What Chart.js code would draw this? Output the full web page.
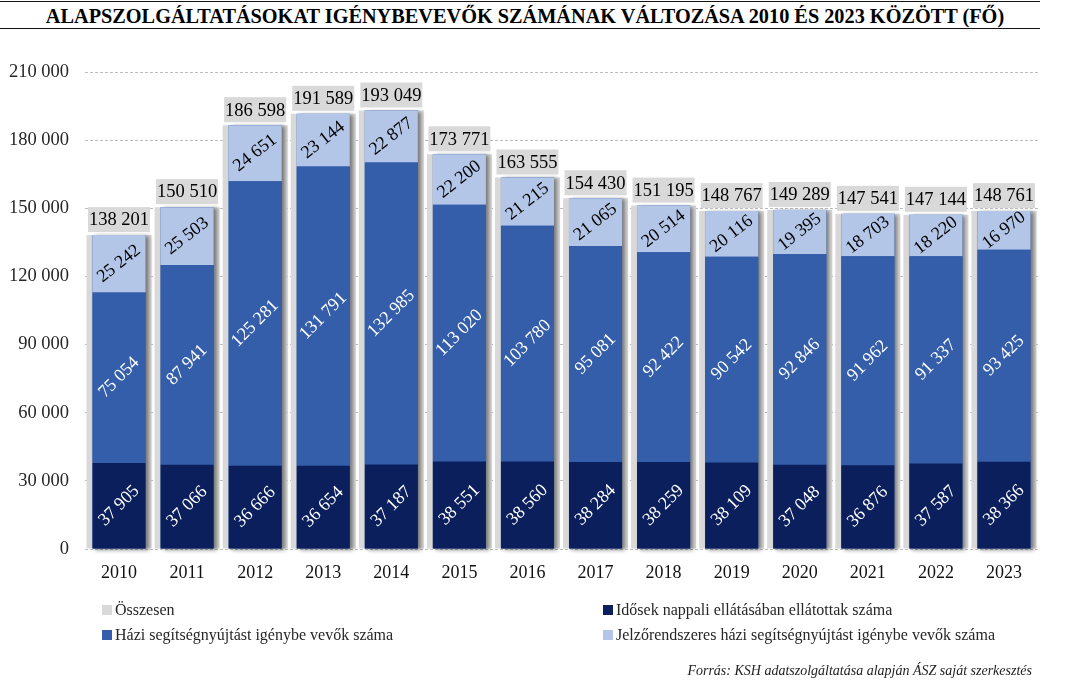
<!DOCTYPE html>
<html><head><meta charset="utf-8">
<script src="https://cdn.jsdelivr.net/npm/chart.js@4.4.0/dist/chart.umd.min.js"></script>
<style>
html,body{margin:0;padding:0;background:#fff;}
#wrap{position:relative;width:1082px;height:691px;overflow:hidden;font-family:"Liberation Serif","DejaVu Serif",serif;}
#title{position:absolute;left:0;top:1px;width:1040px;height:28px;border-top:1.5px solid #111;border-bottom:1.5px solid #111;
  text-align:center;font-weight:bold;font-size:20.3px;line-height:29px;color:#000;letter-spacing:0px;padding-left:10px;box-sizing:border-box;}
#c{position:absolute;left:0;top:0;}
.lg{position:absolute;font-size:16px;color:#262626;white-space:nowrap;line-height:18px;}
.lg span{display:inline-block;width:10px;height:10px;margin-right:3px;vertical-align:0px;}
#src{position:absolute;right:50px;top:663px;font-style:italic;font-size:14px;color:#222;}
</style></head>
<body><div id="wrap">
<div id="title">ALAPSZOLGÁLTATÁSOKAT IGÉNYBEVEVŐK SZÁMÁNAK VÁLTOZÁSA 2010 ÉS 2023 KÖZÖTT (FŐ)</div>
<canvas id="c" width="1082" height="691"></canvas>
<div id="legend"></div>
<div id="src">Forrás: KSH adatszolgáltatása alapján ÁSZ saját szerkesztés</div>
</div>
<script>
const years = ['2010','2011','2012','2013','2014','2015','2016','2017','2018','2019','2020','2021','2022','2023'];
const totalName = 'Összesen';
const darkName = 'Idősek nappali ellátásában ellátottak száma';
const mediumName = 'Házi segítségnyújtást igénybe vevők száma';
const lightName = 'Jelzőrendszeres házi segítségnyújtást igénybe vevők száma';
const totals = [138201,150510,186598,191589,193049,173771,163555,154430,151195,148767,149289,147541,147144,148761];
const dayCare = [37905,37066,36666,36654,37187,38551,38560,38284,38259,38109,37048,36876,37587,38366];
const homeCare = [75054,87941,125281,131791,132985,113020,103780,95081,92422,90542,92846,91962,91337,93425];
const alarmCare = [25242,25503,24651,23144,22877,22200,21215,21065,20514,20116,19395,18703,18220,16970];

const FONT = '"Liberation Serif","DejaVu Serif",serif';
const fmt = v => String(v).replace(/\B(?=(\d{3})+(?!\d))/g, ' ');

const C_GREY = '#D9D9D9', C_DARK = '#0A1F5C', C_MED = '#345EAA', C_LIGHT = '#B3C6E7';

const shadowPlugin = {
  id: 'stackShadow',
  afterDatasetDraw(chart, args) {
    const ds = chart.data.datasets[args.index];
    if (ds.kind !== 'total') return;
    const ctx = chart.ctx;
    const idx = chart.data.datasets.map((d, i) => d.kind === 'part' ? i : -1).filter(i => i >= 0);
    const n = chart.data.labels.length;
    ctx.save();
    ctx.shadowColor = 'rgba(0,0,0,0.45)';
    ctx.shadowBlur = 4;
    ctx.shadowOffsetX = 3;
    ctx.shadowOffsetY = 1;
    ctx.fillStyle = C_MED;
    for (let i = 0; i < n; i++) {
      let top = Infinity, bot = -Infinity, x = 0, w = 0;
      idx.forEach(di => {
        const el = chart.getDatasetMeta(di).data[i];
        top = Math.min(top, el.y, el.base);
        bot = Math.max(bot, el.y, el.base);
        x = el.x; w = el.width;
      });
      ctx.fillRect(x - w / 2, top, w, bot - top);
    }
    ctx.restore();
  }
};

const labelPlugin = {
  id: 'valueLabels',
  afterDatasetsDraw(chart) {
    const ctx = chart.ctx;
    chart.data.datasets.forEach((ds, di) => {
      const meta = chart.getDatasetMeta(di);
      meta.data.forEach((el, i) => {
        const txt = fmt(ds.data[i]);
        ctx.save();
        if (ds.kind === 'total') {
          const w = el.width - 3, h = 25, yb = el.y - 3;
          ctx.fillStyle = C_GREY;
          ctx.fillRect(el.x - w / 2, yb - h, w, h);
          ctx.fillStyle = '#000';
          ctx.font = '18.5px ' + FONT;
          ctx.textAlign = 'center';
          ctx.textBaseline = 'middle';
          ctx.fillText(txt, el.x, yb - h / 2 + 1);
        } else {
          const cy = (el.y + el.base) / 2;
          ctx.translate(el.x, cy);
          ctx.rotate(ds.labelAngle * Math.PI / 180);
          ctx.fillStyle = ds.labelColor;
          ctx.font = '18px ' + FONT;
          ctx.textAlign = 'center';
          ctx.textBaseline = 'middle';
          ctx.fillText(txt, 0, 0);
        }
        ctx.restore();
      });
    });
  }
};

const datasets = [
  {label: totalName, kind: 'total', data: totals, backgroundColor: C_GREY, stack: 'total', order: 2,
   barPercentage: 0.955, categoryPercentage: 1},
  {label: darkName, kind: 'part', data: dayCare, backgroundColor: C_DARK, stack: 'parts', order: 1,
   barPercentage: 0.78, categoryPercentage: 1, labelColor: '#fff', labelAngle: -45},
  {label: mediumName, kind: 'part', data: homeCare, backgroundColor: C_MED, stack: 'parts', order: 1,
   barPercentage: 0.78, categoryPercentage: 1, labelColor: '#fff', labelAngle: -45},
  {label: lightName, kind: 'part', data: alarmCare, backgroundColor: C_LIGHT, stack: 'parts', order: 1,
   barPercentage: 0.78, categoryPercentage: 1, labelColor: '#000', labelAngle: -38}
];

new Chart(document.getElementById('c'), {
  type: 'bar',
  data: {labels: years, datasets: datasets},
  plugins: [shadowPlugin, labelPlugin],
  options: {
    responsive: false,
    animation: false,
    devicePixelRatio: 1,
    datasets: {bar: {grouped: false, borderWidth: 0}},
    layout: {padding: {top: 72, right: 44, bottom: 102, left: 0}},
    plugins: {legend: {display: false}, tooltip: {enabled: false}},
    scales: {
      x: {
        stacked: true,
        grid: {display: false, drawTicks: false},
        border: {display: false},
        ticks: {color: '#111', font: {family: FONT, size: 18}, padding: 13},
        afterFit: s => { s.height = 40; }
      },
      y: {
        stacked: true,
        min: 0, max: 210000,
        grid: {color: '#BDBDBD', lineWidth: 1, drawTicks: false},
        border: {display: false, dash: [3, 2]},
        ticks: {stepSize: 30000, color: '#262626', font: {family: FONT, size: 18.5}, padding: 16,
                callback: v => fmt(v)},
        afterFit: s => { s.width = 85; }
      }
    }
  }
});

const lg = document.getElementById('legend');
const legendItems = [
  [totalName, C_GREY, 102, 601], [darkName, C_DARK, 603, 601],
  [mediumName, C_MED, 102, 626], [lightName, C_LIGHT, 603, 626]
];
legendItems.forEach(([t, c, x, y]) => {
  const d = document.createElement('div');
  d.className = 'lg';
  d.style.left = x + 'px'; d.style.top = y + 'px';
  d.innerHTML = '<span style="background:' + c + '"></span>';
  d.appendChild(document.createTextNode(t));
  lg.appendChild(d);
});
</script>
</body></html>
